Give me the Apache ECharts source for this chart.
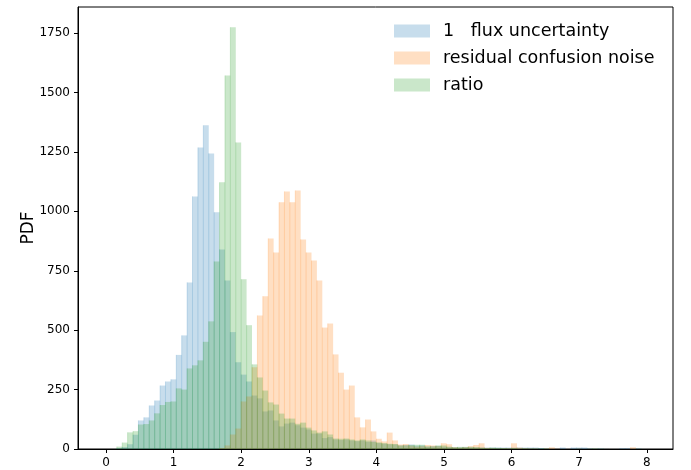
<!DOCTYPE html>
<html>
<head>
<meta charset="utf-8">
<script src="https://cdn.jsdelivr.net/npm/echarts@6/dist/echarts.min.js"></script>
<style>
html,body{margin:0;padding:0;background:#fff;}
#chart{width:691px;height:470px;}
</style>
</head>
<body>
<div id="chart"></div>
<script>
// Histogram bins: 100 bins of width 0.08 starting at 0
const binStart = 0;
const binWidth = 0.08;

const seriesNames = ['1   flux uncertainty', 'residual confusion noise', 'ratio'];

const fluxUncertainty = [
  0, 0, 3, 8, 20, 60, 120, 133, 183, 204,
  267, 284, 293, 396, 478, 701, 1063, 1269, 1362, 1244,
  996, 840, 709, 492, 365, 313, 284, 225, 213, 158,
  162, 120, 95, 107, 111, 100, 90, 82, 65, 65,
  46, 50, 40, 38, 40, 36, 33, 36, 30, 36,
  25, 22, 20, 19, 15, 17, 19, 14, 15, 10,
  12, 13, 10, 8, 7, 7, 8, 7, 6, 6,
  6, 6, 6, 6, 6, 6, 6, 6, 6, 6,
  4, 2, 2, 1, 6, 0, 6, 6, 6, 2,
  0, 2, 2, 0, 0, 3, 3, 2, 2, 0
];

const confusionNoise = [
  0, 0, 0, 0, 0, 0, 0, 0, 0, 0,
  0, 0, 0, 0, 0, 0, 0, 0, 0, 0,
  0, 4, 15, 61, 86, 200, 221, 344, 562, 643,
  886, 827, 1038, 1084, 1038, 1088, 882, 827, 793, 709,
  511, 528, 398, 321, 250, 267, 133, 91, 124, 74,
  43, 32, 69, 36, 19, 21, 14, 10, 12, 17,
  15, 12, 24, 20, 8, 6, 8, 12, 17, 24,
  5, 3, 2, 3, 3, 24, 6, 3, 2, 2,
  0, 2, 7, 1, 0, 0, 0, 1, 0, 0,
  0, 0, 1, 0, 0, 0, 0, 7, 0, 0
];

const ratio = [
  0, 0, 10, 27, 70, 75, 103, 105, 120, 150,
  185, 198, 200, 255, 250, 339, 352, 373, 451, 537,
  789, 1122, 1572, 1775, 1290, 714, 521, 356, 301, 246,
  196, 187, 149, 128, 128, 106, 111, 90, 78, 69,
  74, 61, 44, 43, 44, 40, 36, 40, 36, 30,
  28, 25, 22, 21, 15, 15, 17, 18, 18, 11,
  11, 15, 15, 10, 8, 9, 9, 9, 8, 6,
  4, 6, 5, 4, 3, 4, 2, 3, 2, 2,
  2, 2, 0, 0, 0, 0, 0, 1, 0, 1,
  2, 1, 0, 0, 0, 0, 0, 0, 1, 0
];

const xTicks = [0, 1, 2, 3, 4, 5, 6, 7, 8];
const yTicks = [0, 250, 500, 750, 1000, 1250, 1500, 1750];

const colors = ['rgba(31,119,180,0.25)', 'rgba(255,127,14,0.25)', 'rgba(44,160,44,0.25)'];

function toBins(values) {
  return values.map((v, i) => [binStart + i * binWidth, binStart + (i + 1) * binWidth, v]);
}

function makeRender(color) {
  return function (params, api) {
    const x0 = api.value(0), x1 = api.value(1), v = api.value(2);
    if (!v) return null;
    const p0 = api.coord([x0, v]);
    const p1 = api.coord([x1, 0]);
    return {
      type: 'group',
      children: [
        {
          type: 'rect',
          shape: { x: p0[0], y: p0[1], width: p1[0] - p0[0], height: p1[1] - p0[1] },
          style: { fill: color }
        },
        {
          type: 'line',
          shape: { x1: p0[0], y1: p0[1], x2: p0[0], y2: p1[1] },
          style: { stroke: color, lineWidth: 0.8 }
        }
      ]
    };
  };
}

const allData = [fluxUncertainty, confusionNoise, ratio];

const chart = echarts.init(document.getElementById('chart'), null, { renderer: 'canvas' });
chart.setOption({
  animation: false,
  backgroundColor: '#fff',
  textStyle: { fontFamily: 'DejaVu Sans' },
  grid: {
    left: 78, right: 18, top: 7, bottom: 21,
    show: true, borderColor: '#000', borderWidth: 1, backgroundColor: 'transparent'
  },
  legend: {
    orient: 'vertical',
    left: 394, top: 22, padding: 0,
    itemWidth: 36, itemHeight: 13, itemGap: 9,
    icon: 'rect',
    textStyle: { fontSize: 17.5, color: '#000', fontFamily: 'DejaVu Sans', padding: [0, 0, 0, 8] },
    data: seriesNames.map((n, i) => ({ name: n, itemStyle: { color: colors[i] } }))
  },
  xAxis: {
    type: 'value',
    min: -0.414, max: 8.388,
    splitLine: { show: false },
    axisLine: { show: true, onZero: false, lineStyle: { color: '#000', width: 1 } },
    axisTick: { show: true, length: 4, lineStyle: { color: '#000' }, customValues: xTicks },
    axisLabel: { color: '#000', fontSize: 12, margin: 8, customValues: xTicks, fontFamily: 'DejaVu Sans',
      formatter: v => String(v) }
  },
  yAxis: {
    type: 'value',
    min: 0, max: 1860,
    name: 'PDF',
    nameLocation: 'middle',
    nameGap: 41,
    nameMoveOverlap: false,
    nameTextStyle: { fontSize: 17, color: '#000', fontFamily: 'DejaVu Sans' },
    splitLine: { show: false },
    axisLine: { show: true, onZero: false, lineStyle: { color: '#000', width: 1 } },
    axisTick: { show: true, length: 4, lineStyle: { color: '#000' }, customValues: yTicks },
    axisLabel: { color: '#000', fontSize: 12, margin: 8, customValues: yTicks, fontFamily: 'DejaVu Sans',
      formatter: v => String(v) }
  },
  series: allData.map((vals, i) => ({
    type: 'custom',
    name: seriesNames[i],
    itemStyle: { color: colors[i] },
    renderItem: makeRender(colors[i]),
    encode: { x: [0, 1], y: 2 },
    data: toBins(vals),
    z: 2 + i
  }))
});
</script>
</body>
</html>
